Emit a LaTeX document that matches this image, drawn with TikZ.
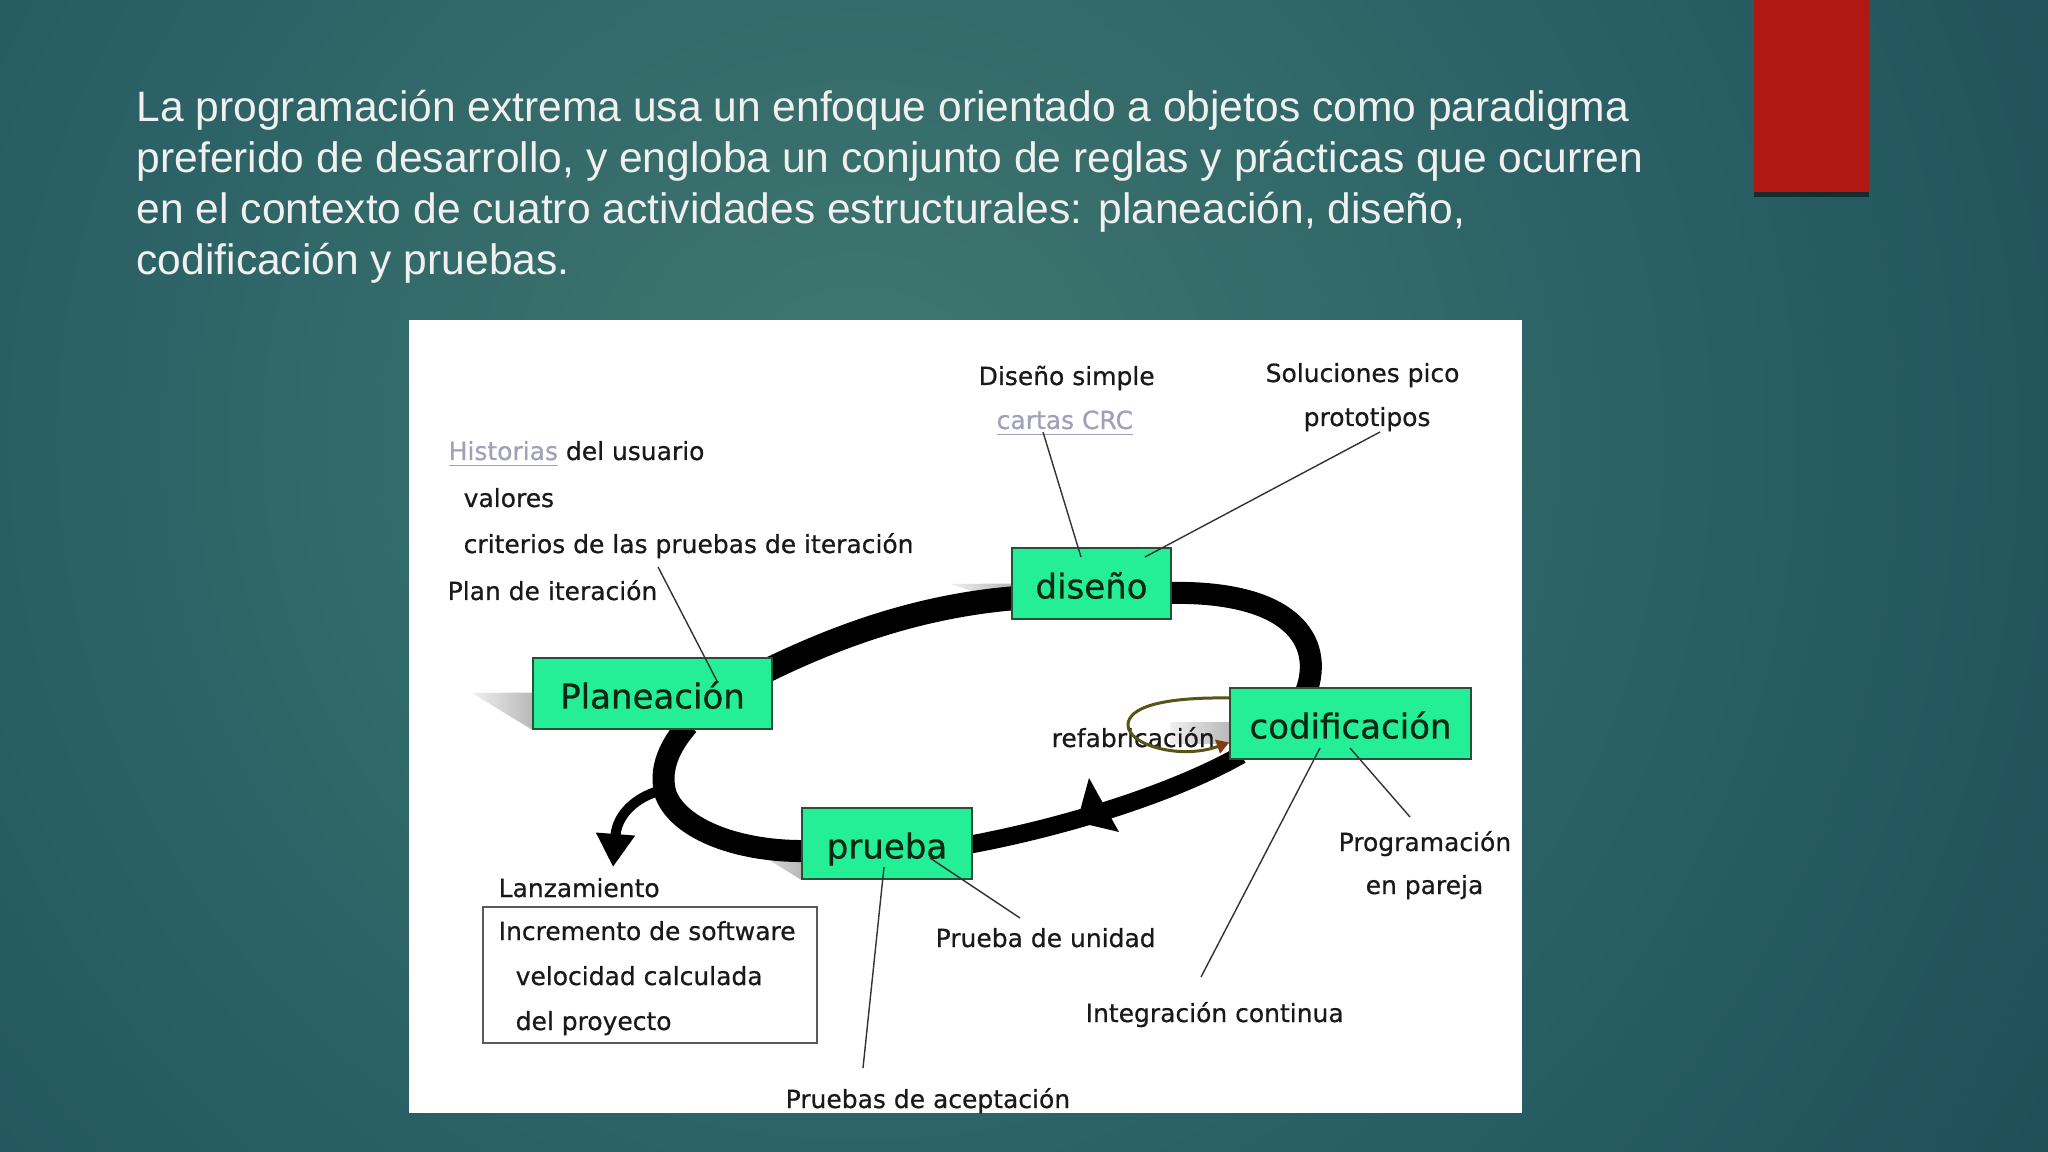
\documentclass[tikz,border=0pt]{standalone}
\usepackage{fontspec}
\setmainfont{Liberation Sans}
\newfontfamily\dvfont[FakeBold=0.6]{DejaVu Sans}
\newfontfamily\dvbox[FakeBold=0.8]{DejaVu Sans}
\usetikzlibrary{calc,arrows.meta}
\pgfdeclarelayer{back}
\pgfdeclarelayer{mid}
\pgfsetlayers{back,mid,main}
\definecolor{bgin}{RGB}{64,120,112}
\definecolor{bgmid}{RGB}{40,94,100}
\definecolor{bgout}{RGB}{18,52,68}
\pgfdeclareradialshading{bgshade}{\pgfpoint{0bp}{0bp}}{color(0bp)=(bgin); color(12bp)=(bgmid); color(30bp)=(bgout); color(50bp)=(bgout)}
\definecolor{redbar}{RGB}{176,24,20}
\definecolor{titlecol}{RGB}{240,240,240}
\definecolor{boxgreen}{RGB}{36,238,150}
\definecolor{boxborder}{RGB}{40,80,55}
\definecolor{boxtext}{RGB}{10,40,20}
\definecolor{lblcol}{RGB}{25,25,25}
\definecolor{linkcol}{RGB}{160,160,185}
\definecolor{refloop}{RGB}{88,84,22}
\definecolor{refarrow}{RGB}{130,60,20}
\newcommand\pxu{0.28453pt}
\tikzset{
  titleline/.style={anchor=base west, inner sep=0pt, text=titlecol, font=\fontsize{12.1}{14}\selectfont},
  phase/.style={draw=boxborder, line width=0.45pt, fill=boxgreen, inner sep=0pt, minimum height=71*\pxu, text=boxtext, font=\dvbox\fontsize{9.67}{11}\selectfont, text height=0.85em, text depth=0pt},
  lbl/.style={anchor=base west, inner sep=0pt, text=lblcol, font=\dvfont\fontsize{7.1}{8.5}\selectfont},
  conn/.style={draw=black!80, line width=0.4pt},
  band/.style={draw=black, line width=22*\pxu},
  wedge/.style={left color=gray!12, right color=gray!55, draw=none},
}
\begin{document}
\begin{tikzpicture}[x=0.01cm,y=-0.01cm]
\useasboundingbox (0,0) rectangle (2048,1152);
\begin{pgfonlayer}{back}
  \begin{scope}
    \clip (0,0) rectangle (2048,1152);
    \fill[bgout] (0,0) rectangle (2048,1152);
    \shade[shading=bgshade] (860,440) circle[radius=18.5cm];
  \end{scope}
  \fill[black, opacity=0.5] (1754,0) rectangle (1869,197);
  \fill[redbar] (1754,0) rectangle (1869,192);
  \fill[white] (409,320) rectangle (1522,1113);
\end{pgfonlayer}

% title
\node[titleline] (t1) at (136,122) {La programación extrema usa un enfoque orientado a objetos como paradigma};
\node[titleline] (t2) at (136,173) {preferido de desarrollo, y engloba un conjunto de reglas y prácticas que ocurren};
\node[titleline] (t3) at (136,224) {en el contexto de cuatro actividades estructurales: planeación, diseño,};
\node[titleline] (t4) at (136,275) {codificación y pruebas.};

% phase boxes
\node[phase, minimum width=239*\pxu] (plan) at (652.5,693.5) {Planeación};
\node[phase, minimum width=159*\pxu] (dis) at (1091.5,583.5) {diseño};
\node[phase, minimum width=241*\pxu] (cod) at (1350.5,723.5) {codificación};
\node[phase, minimum width=170*\pxu] (pru) at (887,843.5) {prueba};

% labels
\node[lbl] (hist) at (448,460) {{\color{linkcol}\underline{Historias}} del usuario};
\node[lbl] (val) at (463,507) {valores};
\node[lbl] (crit) at (463,553) {criterios de las pruebas de iteración};
\node[lbl] (lplan) at (447,600) {Plan de iteración};
\node[lbl] (dsimple) at (978,385) {Diseño simple};
\node[lbl, text=linkcol] (crc) at (996,429) {\underline{cartas CRC}};
\node[lbl] (sol) at (1265,382) {Soluciones pico};
\node[lbl] (proto) at (1303,426) {prototipos};
\node[lbl] (refab) at (1051,747) {refabricación};
\node[lbl] (prog) at (1338,851) {Programación};
\node[lbl] (pareja) at (1365,894) {en pareja};
\node[lbl] (punid) at (935,947) {Prueba de unidad};
\node[lbl] (integ) at (1085,1022) {Integración continua};
\node[lbl] (pacep) at (785,1108) {Pruebas de aceptación};
\node[lbl] (lanz) at (498,897) {Lanzamiento};
\node[draw=black!65, line width=0.45pt, inner sep=0pt, minimum width=334*\pxu, minimum height=136*\pxu] (incbox) at (650,975) {};
\node[lbl] (inc) at (498,940) {Incremento de software};
\node[lbl] (vel) at (515,985) {velocidad calculada};
\node[lbl] (proy) at (515,1030) {del proyecto};

% loop
\begin{pgfonlayer}{mid}
  \shade[wedge] (472,693) -- ($(plan.west)+(0,-1)$) -- (plan.south west) -- cycle;
  \shade[wedge] (950,584) -- (dis.west) -- ($(dis.west)+(0,20)$) -- cycle;
  \shade[wedge] (740,842) -- ($(pru.west)+(0,6)$) -- (pru.south west) -- cycle;
  \shade[wedge] (1170,722) rectangle ($(cod.west)+(0,20)$);
  \draw[band, line width=24*\pxu] ($(plan.east)+(-5,-23.5)$) .. controls (850,630) and (930,605) .. ($(dis.west)+(5,14.5)$);
  \draw[band] ($(dis.east)+(-5,9.5)$) .. controls (1290,590) and (1325,640) .. ($(cod.north)+(-44.5,5)$);
  \draw[band, line width=18*\pxu] ($(cod.south west)+(12,-5)$) .. controls (1170,795) and (1060,828) .. ($(pru.east)+(-5,1.5)$);
  \draw[band] ($(pru.west)+(5,7.5)$) .. controls (740,852) and (680,830) .. (666,795) .. controls (658,770) and (670,745) .. ($(plan.south)+(35.5,-5)$);
  \fill[black] (1089,778) -- (1119,832) -- (1077,822) -- cycle;
  \coordinate (lj) at (662,790);
  \draw[line width=10*\pxu, -{Triangle[width=10.5pt,length=9.4pt]}] (lj) .. controls (635,797) and (617,815) .. ($(lanz.base west)+(115,-30)$);
\end{pgfonlayer}

% refabricacion loop
\draw[refloop, line width=3*\pxu, -{Triangle[width=4pt,length=3.5pt,color=refarrow]}] ($(cod.west)+(0,-25.5)$) .. controls (1160,697) and (1128,708) .. (1128,725) .. controls (1128,745) and (1180,760) .. ($(cod.west)+(0,19)$);

% connectors
\draw[conn] ($(lplan.base east)+(0,-33)$) -- ($(plan.center)+(65.5,-10.5)$);
\draw[conn] ($(crc.base west)+(47,3)$) -- ($(dis.center)+(-10.5,-26.5)$);
\draw[conn] ($(proto.base west)+(77,6)$) -- ($(dis.center)+(53.5,-26.5)$);
\draw[conn] ($(cod.center)+(-30.5,24.5)$) -- ($(integ.base west)+(116,-45)$);
\draw[conn] ($(cod.center)+(-0.5,24.5)$) -- ($(prog.base west)+(72,-34)$);
\draw[conn] ($(pru.center)+(43,14.5)$) -- ($(punid.base west)+(85,-29)$);
\draw[conn] ($(pru.center)+(-3,23.5)$) -- ($(pacep.base west)+(78,-40)$);
\end{tikzpicture}
\end{document}
